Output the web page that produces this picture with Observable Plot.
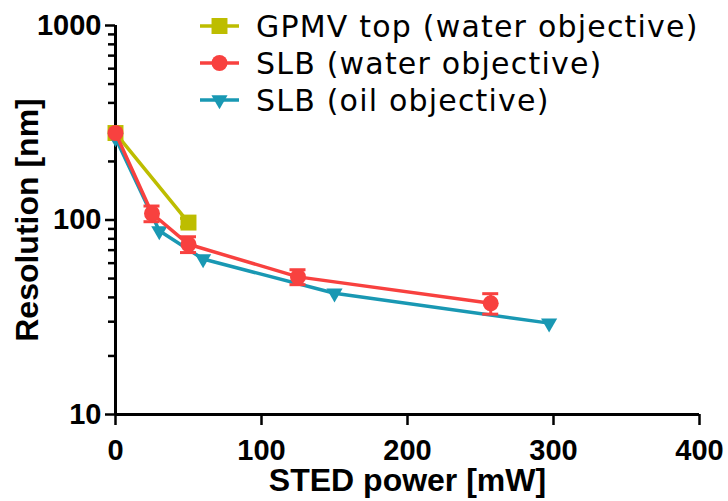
<!DOCTYPE html>
<html><head><meta charset="utf-8">
<script src="https://cdn.jsdelivr.net/npm/d3@7"></script>
<script src="https://cdn.jsdelivr.net/npm/@observablehq/plot@0.6"></script>
<style>
body{margin:0;background:#fff;}
#wrap{position:relative;width:728px;height:501px;overflow:hidden;}
#legend{position:absolute;left:0;top:0;font-family:"DejaVu Sans",Verdana,sans-serif;font-size:30px;letter-spacing:1.2px;color:#000;}
.row{position:absolute;left:200px;height:40px;display:flex;align-items:center;white-space:nowrap;}
.row svg{display:block;}
.row span{margin-left:16px;}
</style></head><body><div id="wrap"></div>
<script>
const seriesNames = ["GPMV top (water objective)", "SLB (water objective)", "SLB (oil objective)"];
const seriesColors = ["#bdbd00", "#f8413f", "#1998b3"];
const seriesSymbols = ["square", "circle", "triangle"];

const gpmvPower = [0, 50];
const gpmvRes = [280, 97];
const gpmvErr = [0, 5];

const slbWaterPower = [0, 25, 50, 125, 257];
const slbWaterRes = [280, 108, 75, 51, 37.3];
const slbWaterErr = [0, 10, 7, 4.5, 4.5];

const slbOilPower = [0, 30, 60, 150, 297];
const slbOilRes = [264, 88, 63, 42, 29.5];

const xTicks = [0, 100, 200, 300, 400];
const yTicks = [10, 100, 1000];
const yMinorTicks = [20, 30, 40, 50, 60, 70, 80, 90, 200, 300, 400, 500, 600, 700, 800, 900];

const gpmv = gpmvPower.map((p, i) => ({power: p, res: gpmvRes[i], err: gpmvErr[i]}));
const water = slbWaterPower.map((p, i) => ({power: p, res: slbWaterRes[i], err: slbWaterErr[i]}));
const oil = slbOilPower.map((p, i) => ({power: p, res: slbOilRes[i]}));
const withErr = arr => arr.filter(d => d.err > 0);

function errorBars(arr, color) {
  const e = withErr(arr);
  return [
    Plot.ruleX(e, {x: "power", y1: d => d.res - d.err, y2: d => d.res + d.err, stroke: color, strokeWidth: 3}),
    Plot.ruleY(e, {y: d => d.res - d.err, x1: "power", x2: "power", insetLeft: -8, insetRight: -8, stroke: color, strokeWidth: 3}),
    Plot.ruleY(e, {y: d => d.res + d.err, x1: "power", x2: "power", insetLeft: -8, insetRight: -8, stroke: color, strokeWidth: 3})
  ];
}

const plot = Plot.plot({
  width: 728,
  height: 501,
  marginLeft: 115,
  marginRight: 29,
  marginTop: 25,
  marginBottom: 87,
  x: {domain: [0, 400]},
  y: {type: "log", domain: [10, 1000]},
  style: {background: "transparent", fontFamily: "'Liberation Sans', Arial, sans-serif", color: "#000"},
  marks: [
    Plot.axisY(yMinorTicks, {tickSize: 7, strokeWidth: 2.5, tickFormat: () => "", label: null}),
    Plot.axisY(yTicks, {tickSize: 10, tickPadding: 4, strokeWidth: 2.5, fontSize: 29, fontWeight: "bold", tickFormat: d => String(d), label: null}),
    Plot.axisX(xTicks, {tickSize: 11, tickPadding: 14, strokeWidth: 2.5, fontSize: 29, fontWeight: "bold", tickFormat: d => String(d), label: null}),
    Plot.ruleX([0], {strokeWidth: 3}),
    Plot.ruleY([10], {strokeWidth: 3}),
    Plot.text(["Resolution [nm]"], {text: d => d, frameAnchor: "left", textAnchor: "middle", lineAnchor: "middle", rotate: -90, dx: -88, fontSize: 32, fontWeight: "bold"}),
    Plot.text(["STED power [mW]"], {text: d => d, frameAnchor: "bottom", textAnchor: "middle", lineAnchor: "middle", dy: 66, fontSize: 32, fontWeight: "bold"}),

    Plot.line(gpmv, {x: "power", y: "res", stroke: seriesColors[0], strokeWidth: 3.5}),
    ...errorBars(gpmv, seriesColors[0]),
    Plot.dot(gpmv, {x: "power", y: "res", symbol: "square", r: 9, fill: seriesColors[0]}),

    Plot.line(oil, {x: "power", y: "res", stroke: seriesColors[2], strokeWidth: 3.5}),
    Plot.dot(oil, {x: "power", y: "res", symbol: "triangle", rotate: 180, r: 6, fill: seriesColors[2]}),

    Plot.line(water, {x: "power", y: "res", stroke: seriesColors[1], strokeWidth: 3.5}),
    ...errorBars(water, seriesColors[1]),
    Plot.dot(water, {x: "power", y: "res", symbol: "circle", r: 8, fill: seriesColors[1]})
  ]
});

const wrap = document.getElementById("wrap");
wrap.appendChild(plot);

// Legend (HTML overlay)
const legend = document.createElement("div");
legend.id = "legend";
const rowCenters = [26, 63, 100];
seriesNames.forEach((name, i) => {
  const row = document.createElement("div");
  row.className = "row";
  row.style.top = (rowCenters[i] - 20) + "px";
  const sym = d3.symbol().type(i === 0 ? d3.symbolSquare : i === 1 ? d3.symbolCircle : d3.symbolTriangle)
    .size(i === 0 ? Math.PI * 81 : i === 1 ? Math.PI * 64 : Math.PI * 36)();
  row.innerHTML = `<svg width="40" height="40" viewBox="0 0 40 40">
    <line x1="0" x2="39" y1="20" y2="20" stroke="${seriesColors[i]}" stroke-width="3.5"/>
    <path d="${sym}" transform="translate(19.5,20)${i === 2 ? " rotate(180)" : ""}" fill="${seriesColors[i]}"/>
  </svg><span>${name}</span>`;
  legend.appendChild(row);
});
wrap.appendChild(legend);
</script>
</body></html>
